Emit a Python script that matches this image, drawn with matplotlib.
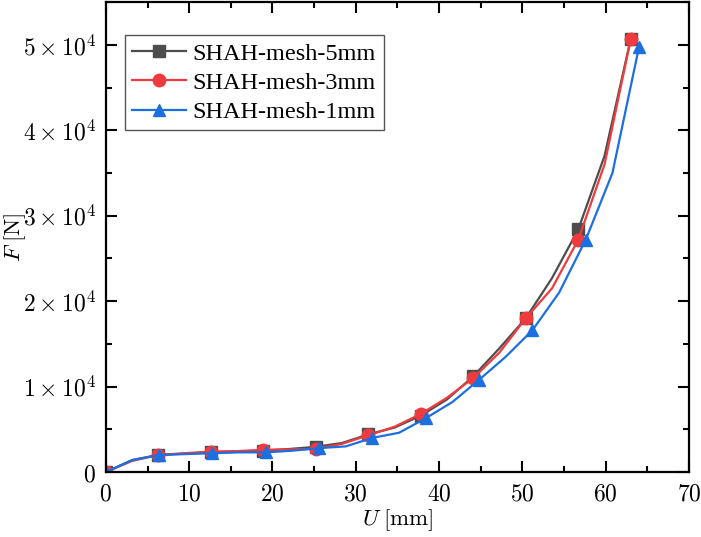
import matplotlib
matplotlib.use("Agg")
import matplotlib.pyplot as plt
from matplotlib.ticker import MultipleLocator, FuncFormatter

# Displacement U [mm] and force F [N] for the three mesh sizes
u_5mm = [0, 3.15, 6.3, 9.45, 12.6, 15.75, 18.9, 22.05, 25.2, 28.35, 31.5,
         34.65, 37.8, 40.95, 44.1, 47.25, 50.4, 53.55, 56.7, 59.85, 63.0]
f_5mm = [0, 1400, 2000, 2150, 2300, 2400, 2500, 2700, 2950, 3400, 4400,
         5200, 6600, 8500, 11200, 14500, 18000, 22700, 28400, 37000, 50700]

u_3mm = [0, 3.15, 6.3, 9.45, 12.6, 15.75, 18.9, 22.05, 25.2, 28.35, 31.5,
         34.65, 37.8, 40.95, 44.1, 47.25, 50.4, 53.55, 56.7, 59.85, 63.0]
f_3mm = [0, 1300, 2000, 2200, 2400, 2450, 2600, 2650, 2700, 3300, 4300,
         5300, 6800, 8700, 11000, 14000, 18000, 21500, 27200, 36000, 50700]

u_1mm = [0, 3.2, 6.4, 9.6, 12.8, 16.0, 19.2, 22.4, 25.6, 28.8, 32.0,
         35.2, 38.4, 41.6, 44.8, 48.0, 51.2, 54.4, 57.6, 60.8, 64.0]
f_1mm = [0, 1400, 2000, 2100, 2200, 2300, 2300, 2500, 2800, 3000, 4000,
         4600, 6300, 8200, 10800, 13500, 16600, 21000, 27200, 35000, 49800]

labels = ["SHAH-mesh-5mm", "SHAH-mesh-3mm", "SHAH-mesh-1mm"]
colors = ["#4d4d4d", "#ef3b3e", "#1c6fe0"]
markers = ["s", "o", "^"]

plt.rcParams["mathtext.fontset"] = "cm"

fig = plt.figure(figsize=(7.01, 5.37), dpi=100)
ax = fig.add_axes([0.151, 0.121, 0.832, 0.875])

series = [(u_5mm, f_5mm), (u_3mm, f_3mm), (u_1mm, f_1mm)]
for (u, f), lab, c, m in zip(series, labels, colors, markers):
    ax.plot(u, f, color=c, lw=1.6, marker=m, markersize=8.5 if m != "o" else 9,
            markevery=2, label=lab)

ax.set_xlim(0, 70)
ax.set_ylim(0, 55000)
ax.xaxis.set_major_locator(MultipleLocator(10))
ax.xaxis.set_minor_locator(MultipleLocator(5))
ax.yaxis.set_major_locator(MultipleLocator(10000))
ax.yaxis.set_minor_locator(MultipleLocator(5000))


def y_fmt(v, pos):
    if v == 0:
        return r"$0$"
    return r"$%d\times10^{4}$" % round(v / 10000)


ax.yaxis.set_major_formatter(FuncFormatter(y_fmt))
ax.xaxis.set_major_formatter(FuncFormatter(lambda v, p: r"$%d$" % v))

ax.tick_params(which="both", direction="in", top=True, right=True,
               width=1.5, labelsize=17)
ax.tick_params(which="major", length=8, pad=7)
ax.tick_params(which="minor", length=4)
for s in ax.spines.values():
    s.set_linewidth(1.6)

ax.set_xlabel(r"$U\;[\mathrm{mm}]$", fontsize=16.5)
ax.set_ylabel(r"$F\;[\mathrm{N}]$", fontsize=16.5)
ax.xaxis.set_label_coords(0.5, -0.075)
ax.yaxis.set_label_coords(-0.133, 0.5)

leg = ax.legend(loc="upper left", bbox_to_anchor=(0.02, 0.945),
                prop={"family": "Liberation Serif", "size": 17.5},
                fancybox=False, edgecolor="#555555", framealpha=1,
                handlelength=2.2, handletextpad=0.3, borderpad=0.3,
                labelspacing=0.3, borderaxespad=0.3)
leg.get_frame().set_linewidth(1.0)

fig.savefig("out.png", dpi=100)
